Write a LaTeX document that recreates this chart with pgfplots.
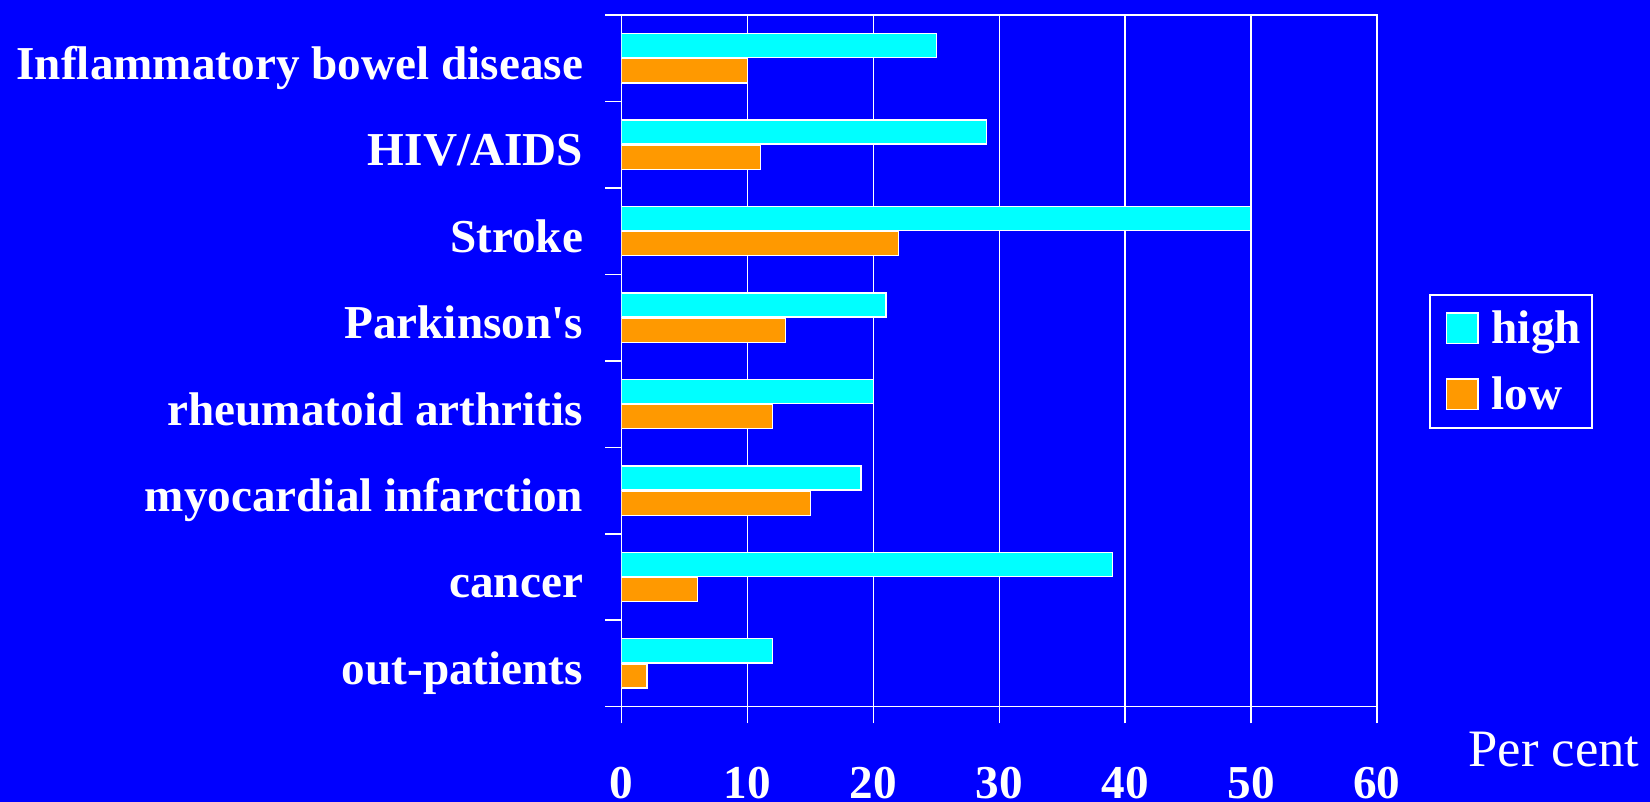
\documentclass[border=0pt]{standalone}
\usepackage{fontspec}
\setmainfont{Liberation Serif}
\usepackage{pgfplots}
\pgfplotsset{compat=1.18}
\definecolor{bg}{RGB}{0,0,255}
\definecolor{hi}{RGB}{0,255,255}
\definecolor{lo}{RGB}{255,153,0}
\newcommand\lf{\fontsize{23.6pt}{28pt}\selectfont\bfseries}
\pgfplotsset{sqleg/.style={legend image code/.code={\path (0pt,0pt); \draw[##1] (2.5pt,-7.6pt) rectangle (18.3pt,7.6pt);}}}
\begin{document}
\begin{tikzpicture}
\path[use as bounding box, fill=bg] (0,0) rectangle (825pt,401pt);
\begin{axis}[
  at={(310.85pt,47.65pt)}, anchor=south west,
  scale only axis, width=377.65pt, height=345.85pt,
  xbar, bar width=0.278,
  xmin=0, xmax=60, ymin=-0.5, ymax=7.5,
  xtick={0,10,20,30,40,50,60},
  ytick={-0.5,0.5,1.5,2.5,3.5,4.5,5.5,6.5,7.5},
  y tick label as interval,
  yticklabels={out-patients, cancer, myocardial infarction, rheumatoid arthritis, Parkinson\textquotesingle s, Stroke, HIV/AIDS, Inflammatory bowel disease},
  xtick pos=lower, ytick pos=left,
  tick align=outside, major tick length=8.3pt,
  xmajorgrids,
  axis line style={white, line width=0.75pt},
  tick style={white, line width=0.75pt},
  major grid style={white, line width=0.75pt},
  ticklabel style={font=\lf, text=white},
  /pgf/number format/assume math mode=true,
  xticklabel style={anchor=base, inner sep=0pt, yshift=-37.8pt},
  yticklabel style={anchor=base east, inner sep=0pt, xshift=-10.85pt, yshift=-10.5pt},
  xlabel={Per cent},
  xlabel style={at={(axis description cs:1.3482,-0.08674)}, anchor=base east, inner sep=0pt, font=\fontsize{26.3pt}{30pt}\selectfont, text=white},
  legend style={at={(axis description cs:1.0689,0.5966)}, anchor=north west, draw=white, line width=0.75pt, fill=bg, text=white, font=\lf, inner xsep=5.5pt, inner ysep=2.25pt, row sep=4pt, column sep=6.5pt, cells={anchor=west}, nodes={text height=16pt, text depth=0.8pt, minimum height=29pt, inner sep=0pt}},
]
\addplot[fill=hi, draw=white, line width=0.65pt, bar shift=0.146, sqleg] coordinates {(12,0) (39,1) (19,2) (20,3) (21,4) (50,5) (29,6) (25,7)};
\addplot[fill=lo, draw=white, line width=0.65pt, bar shift=-0.146, sqleg] coordinates {(2,0) (6,1) (15,2) (12,3) (13,4) (22,5) (11,6) (10,7)};
\addlegendentry{high}
\addlegendentry{low}
\end{axis}
\end{tikzpicture}
\end{document}
